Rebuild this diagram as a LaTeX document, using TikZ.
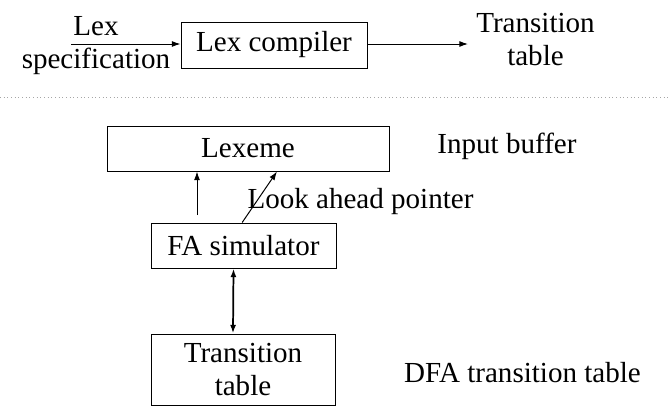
\documentclass[tikz,border=0pt]{standalone}
\usepackage{fontspec}
\setmainfont{Liberation Serif}
\usetikzlibrary{arrows.meta}
\begin{document}
\begin{tikzpicture}[x=0.75pt, y=-0.75pt, >={Latex[length=6.5pt,width=4.5pt]},
    font=\fontsize{21.8}{24.5}\selectfont,
    blk/.style={draw, rectangle, line width=0.75pt, inner sep=0pt, align=center},
    lbl/.style={inner sep=0pt, align=center}]
    \useasboundingbox (0,0) rectangle (669,419);

    % top: the generator
    \node[blk, minimum width=139.5pt, minimum height=34.5pt] (lexc) at (274,45) {Lex compiler};
    \node[lbl, anchor=base] (spec) at (96,68) {Lex\\specification};
    \node[lbl, anchor=base] (toptab) at (535.5,65) {Transition\\table};
    \coordinate (specin) at (71,44);
    \coordinate (tabout) at (468,44);
    \draw[->, line width=0.75pt] (specin) -- (lexc.west |- specin);
    \draw[->, line width=0.75pt] (lexc.east |- tabout) -- (tabout);

    \coordinate (sepl) at (0,97);
    \coordinate (sepr) at (669,97);
    \draw[gray!70, dotted, line width=0.75pt] (sepl) -- (sepr);

    % bottom: the lexer at run time
    \node[blk, minimum width=211.5pt, minimum height=33.75pt] (lexeme) at (248,148.5) {Lexeme};
    \node[lbl, anchor=base] (inbuf) at (507,153) {Input buffer};
    \node[blk, minimum width=138.75pt, minimum height=33.75pt] (fasim) at (243.5,245.5) {FA simulator};
    \node[blk, minimum width=138pt, minimum height=53.25pt] (trans) at (243,369.5) {Transition\\table};
    \node[lbl, anchor=base] (lap) at (360.5,208) {Look ahead pointer};
    \node[lbl, anchor=base] (dfa) at (522.5,382) {DFA transition table};

    \coordinate (lexstart) at (197,215);
    \coordinate (lapend) at (277,171.5);
    \draw[->, line width=0.75pt] (lexstart) -- (lexeme.south -| lexstart);
    \draw[->, line width=0.75pt] ([xshift=-1pt]fasim.north) -- (lapend);
    \draw[<->, line width=1.3pt] ([xshift=-7.5pt]fasim.south) -- ([xshift=-7.5pt]trans.north);
\end{tikzpicture}
\end{document}
